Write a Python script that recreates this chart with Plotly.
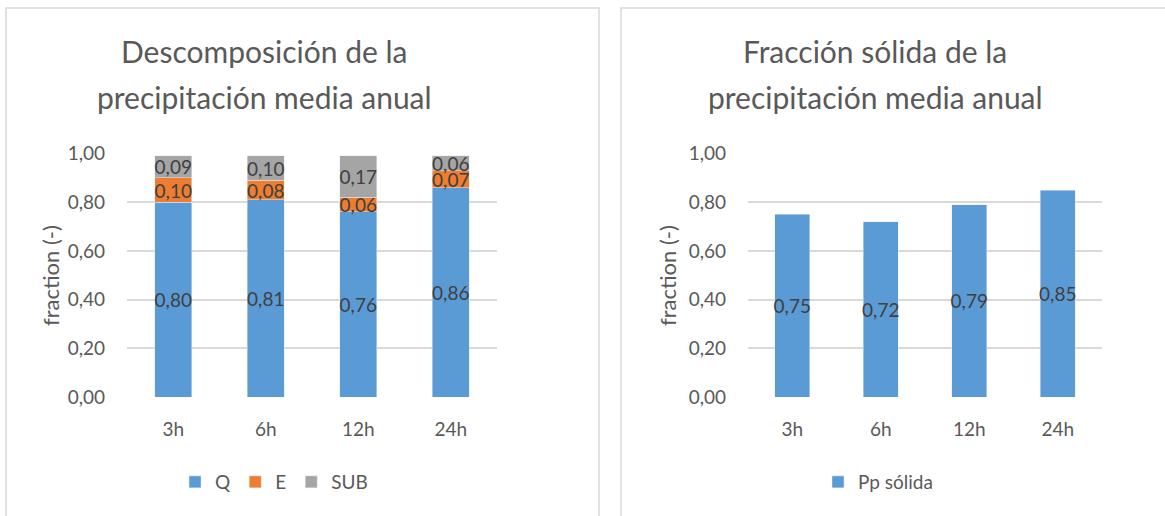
import plotly.graph_objects as go

categories = ["3h", "6h", "12h", "24h"]
q_values = [0.80, 0.81, 0.76, 0.86]
e_values = [0.10, 0.08, 0.06, 0.07]
sub_values = [0.09, 0.10, 0.17, 0.06]
solid_values = [0.75, 0.72, 0.79, 0.85]
y_tickvals = [0.0, 0.2, 0.4, 0.6, 0.8, 1.0]
y_ticktext = ["0,00", "0,20", "0,40", "0,60", "0,80", "1,00"]

W, H = 1165, 516
FONT = "Lato"
TXT = "#595959"
LBL = "#404040"
BLUE = "#5B9BD5"
ORANGE = "#ED7D31"
GRAY = "#A5A5A5"
GRID = "#D9D9D9"


def px(x):
    return x / W


def py(y):
    return 1 - y / H


fig = go.Figure()

bar_common = dict(
    texttemplate="%{y:.2f}",
    textposition="inside",
    insidetextanchor="middle",
    textangle=0,
    textfont=dict(family=FONT, size=19, color=LBL),
    hoverinfo="skip",
)

fig.add_trace(go.Bar(x=categories, y=q_values, name="Q", marker_color=BLUE,
                     xaxis="x", yaxis="y", legend="legend", **bar_common))
fig.add_trace(go.Bar(x=categories, y=e_values, name="E", marker_color=ORANGE,
                     xaxis="x", yaxis="y", legend="legend", **bar_common))
fig.add_trace(go.Bar(x=categories, y=sub_values, name="SUB", marker_color=GRAY,
                     xaxis="x", yaxis="y", legend="legend", **bar_common))
fig.add_trace(go.Bar(x=categories, y=solid_values, name="Pp sólida", marker_color=BLUE,
                     xaxis="x2", yaxis="y2", legend="legend2", **bar_common))

yaxis_common = dict(
    range=[0, 1.002],
    tickvals=y_tickvals,
    ticktext=y_ticktext,
    showgrid=True,
    gridcolor=GRID,
    gridwidth=1.5,
    zeroline=False,
    showline=False,
    automargin=False,
    tickfont=dict(family=FONT, size=19, color=TXT),
    ticklabelstandoff=21,
    fixedrange=True,
)
xaxis_common = dict(
    showgrid=False,
    zeroline=False,
    showline=False,
    automargin=False,
    tickfont=dict(family=FONT, size=19, color=TXT),
    ticklabelstandoff=19,
    fixedrange=True,
)

legend_common = dict(
    orientation="h", xanchor="center", yanchor="middle",
    font=dict(family=FONT, size=19, color=TXT), itemwidth=30,
    traceorder="normal", bgcolor="rgba(0,0,0,0)",
)

fig.update_layout(
    width=W,
    height=H,
    autosize=False,
    margin=dict(l=0, r=0, t=0, b=0, autoexpand=False),
    paper_bgcolor="white",
    plot_bgcolor="white",
    barmode="stack",
    bargap=0.6,
    separators=",.",
    showlegend=True,
    uniformtext=dict(minsize=19, mode="show"),
    xaxis=dict(domain=[px(127), px(497)], anchor="y", **xaxis_common),
    yaxis=dict(domain=[py(397), py(153)], anchor="x", **yaxis_common),
    xaxis2=dict(domain=[px(748), px(1102)], anchor="y2", **xaxis_common),
    yaxis2=dict(domain=[py(397), py(153)], anchor="x2", **yaxis_common),
    legend=dict(x=px(274), y=py(482), **legend_common),
    legend2=dict(x=px(878), y=py(482), **legend_common),
    shapes=[
        dict(type="rect", xref="paper", yref="paper", x0=px(6), x1=px(599), y0=py(530), y1=py(8),
             line=dict(color=GRID, width=1.5), layer="below"),
        dict(type="rect", xref="paper", yref="paper", x0=px(621), x1=px(1180), y0=py(530), y1=py(8),
             line=dict(color=GRID, width=1.5), layer="below"),
    ],
    annotations=[
        dict(text="Descomposición de la", x=px(264), y=py(51), xref="paper", yref="paper",
             showarrow=False, xanchor="center", yanchor="middle",
             font=dict(family=FONT, size=30, color=TXT)),
        dict(text="precipitación media anual", x=px(264), y=py(97), xref="paper", yref="paper",
             showarrow=False, xanchor="center", yanchor="middle",
             font=dict(family=FONT, size=30, color=TXT)),
        dict(text="Fracción sólida de la", x=px(875), y=py(51), xref="paper", yref="paper",
             showarrow=False, xanchor="center", yanchor="middle",
             font=dict(family=FONT, size=30, color=TXT)),
        dict(text="precipitación media anual", x=px(875), y=py(97), xref="paper", yref="paper",
             showarrow=False, xanchor="center", yanchor="middle",
             font=dict(family=FONT, size=30, color=TXT)),
        dict(text="fraction (-)", x=px(50), y=py(276), xref="paper", yref="paper",
             showarrow=False, xanchor="center", yanchor="middle", textangle=-90,
             font=dict(family=FONT, size=22, color=TXT)),
        dict(text="fraction (-)", x=px(667), y=py(276), xref="paper", yref="paper",
             showarrow=False, xanchor="center", yanchor="middle", textangle=-90,
             font=dict(family=FONT, size=22, color=TXT)),
    ],
)

fig.write_html("out.html")
